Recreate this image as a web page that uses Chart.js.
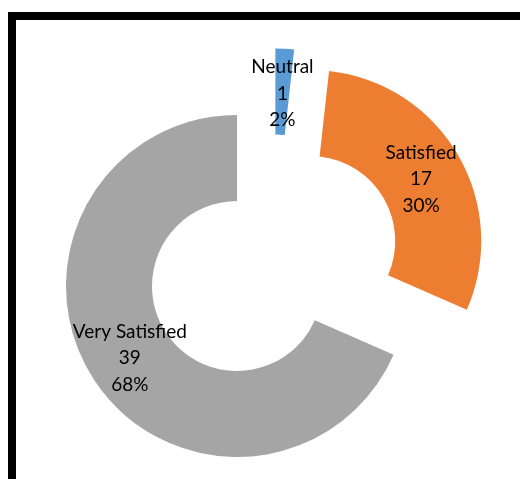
<!DOCTYPE html>
<html>
<head>
<meta charset="utf-8">
<script src="https://cdn.jsdelivr.net/npm/chart.js@4"></script>
<style>
  html, body { margin: 0; padding: 0; background: #fff; }
  #wrap { position: relative; width: 520px; height: 479px; overflow: hidden; }
  #c { position: absolute; left: 0; top: 0; }
  #frame { position: absolute; left: 8px; top: 12px; width: 600px; height: 600px;
           border-top: 8px solid #000; border-left: 8px solid #000; pointer-events: none; }
</style>
</head>
<body>
<div id="wrap">
  <canvas id="c" width="520" height="479"></canvas>
  <div id="frame"></div>
</div>
<script>
const categories = ['Neutral', 'Satisfied', 'Very Satisfied'];
const values = [1, 17, 39];
const colors = ['#5B9BD5', '#ED7D31', '#A5A5A5'];

const EXPLODE = 43;
const FONT = '19px Lato';
const LINE = 26.5;

const total = values.reduce((a, b) => a + b, 0);

const explodePlugin = {
  id: 'explode',
  beforeDatasetDraw(chart, args) {
    const ctx = chart.ctx;
    args.meta.data.forEach((arc) => {
      const mid = (arc.startAngle + arc.endAngle) / 2;
      ctx.save();
      ctx.translate(Math.cos(mid) * EXPLODE, Math.sin(mid) * EXPLODE);
      arc.draw(ctx);
      ctx.restore();
    });
    return false;
  },
  afterDatasetsDraw(chart) {
    const ctx = chart.ctx;
    const meta = chart.getDatasetMeta(0);
    ctx.save();
    ctx.font = FONT;
    ctx.fillStyle = '#000';
    ctx.textAlign = 'center';
    ctx.textBaseline = 'middle';
    meta.data.forEach((arc, i) => {
      const mid = (arc.startAngle + arc.endAngle) / 2;
      const r = (arc.innerRadius + arc.outerRadius) / 2 + EXPLODE;
      const x = arc.x + Math.cos(mid) * r;
      const y = arc.y + Math.sin(mid) * r + 2;
      const lines = [categories[i], String(values[i]), Math.round(values[i] / total * 100) + '%'];
      lines.forEach((t, k) => ctx.fillText(t, x, y + (k - 1) * LINE));
    });
    ctx.restore();
  }
};

new Chart(document.getElementById('c'), {
  type: 'doughnut',
  data: {
    labels: categories,
    datasets: [{
      data: values,
      backgroundColor: colors,
      borderWidth: 0
    }]
  },
  options: {
    responsive: false,
    animation: false,
    radius: 171,
    cutout: '49.7%',
    layout: { padding: { left: 26, top: 46, right: 0, bottom: 0 } },
    plugins: { legend: { display: false }, tooltip: { enabled: false } }
  },
  plugins: [explodePlugin]
});
</script>
</body>
</html>
